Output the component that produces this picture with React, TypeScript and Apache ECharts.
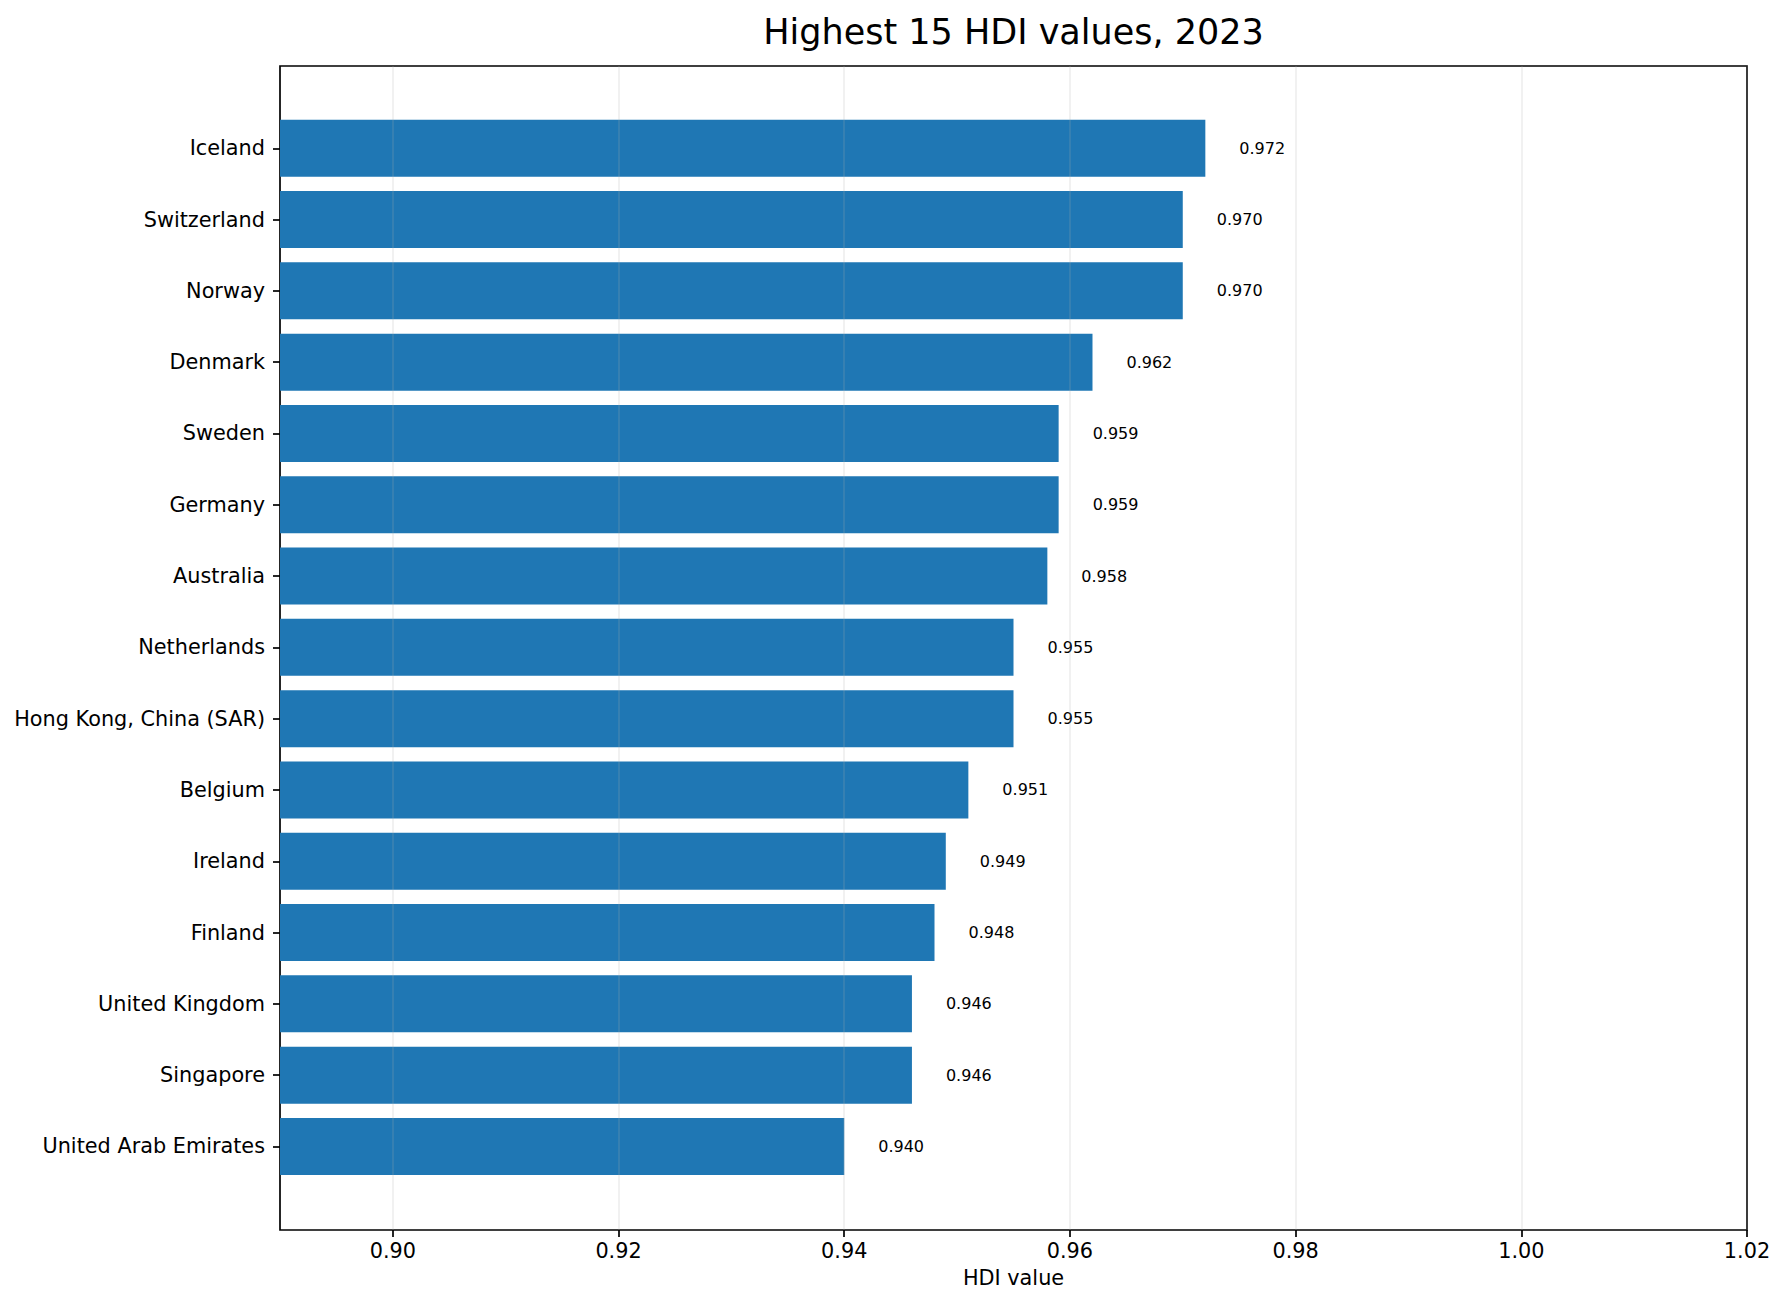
import { FC, useEffect, useRef } from 'react';
import * as echarts from 'echarts';

// data
const countries = [
  'Iceland',
  'Switzerland',
  'Norway',
  'Denmark',
  'Sweden',
  'Germany',
  'Australia',
  'Netherlands',
  'Hong Kong, China (SAR)',
  'Belgium',
  'Ireland',
  'Finland',
  'United Kingdom',
  'Singapore',
  'United Arab Emirates',
];
const hdiValues = [0.972, 0.97, 0.97, 0.962, 0.959, 0.959, 0.958, 0.955, 0.955, 0.951, 0.949, 0.948, 0.946, 0.946, 0.94];
const xTicks = [0.9, 0.92, 0.94, 0.96, 0.98, 1.0, 1.02];
const xMin = 0.89;
const xMax = 1.02;

const FONT = 'DejaVu Sans';

// layout (px)
const AX_LEFT = 280;
const AX_WIDTH = 1467;
const AX_TOP = 66;
const AX_HEIGHT = 1164;
const BAND = 71.3;
const BAND_TOP = 112.6;

const App: FC = () => {
  const chartDom = useRef<HTMLDivElement>(null);

  useEffect(() => {
    const chart = echarts.init(chartDom.current, null, { renderer: 'svg' });

    const option = {
      animation: false,
      backgroundColor: '#fff',
      textStyle: { fontFamily: FONT, color: '#000' },
      graphic: [
        {
          type: 'text',
          x: AX_LEFT + AX_WIDTH / 2,
          y: 32,
          style: {
            text: 'Highest 15 HDI values, 2023',
            align: 'center',
            verticalAlign: 'middle',
            fontFamily: FONT,
            fontSize: 35,
            fill: '#000',
          },
        },
      ],
      grid: [
        // bars
        { left: AX_LEFT, width: AX_WIDTH, top: BAND_TOP, height: BAND * countries.length },
        // frame + x axis
        {
          left: AX_LEFT,
          width: AX_WIDTH,
          top: AX_TOP,
          height: AX_HEIGHT,
          show: true,
          borderColor: '#000',
          borderWidth: 1.7,
          backgroundColor: 'transparent',
        },
      ],
      xAxis: [
        { gridIndex: 0, type: 'value', min: xMin, max: xMax, show: false },
        {
          gridIndex: 1,
          type: 'value',
          min: xMin,
          max: xMax,
          axisLine: { show: false },
          axisTick: {
            show: true,
            customValues: xTicks,
            length: 7,
            lineStyle: { color: '#000', width: 1.7 },
          },
          axisLabel: {
            customValues: xTicks,
            margin: 10,
            fontSize: 20.8,
            color: '#000',
            fontFamily: FONT,
            formatter: (v: number) => v.toFixed(2),
          },
          splitLine: { show: false },
          name: 'HDI value',
          nameLocation: 'middle',
          nameGap: 37,
          nameTextStyle: { fontSize: 20.8, color: '#000', fontFamily: FONT },
        },
      ],
      yAxis: [
        {
          gridIndex: 0,
          type: 'category',
          inverse: true,
          data: countries,
          axisLine: { show: false },
          axisTick: {
            show: true,
            alignWithLabel: true,
            length: 7,
            lineStyle: { color: '#000', width: 1.7 },
          },
          axisLabel: { margin: 15, fontSize: 20.8, color: '#000', fontFamily: FONT },
          splitLine: { show: false },
        },
        { gridIndex: 1, type: 'value', min: 0, max: 1, show: false },
      ],
      series: [
        {
          type: 'bar',
          xAxisIndex: 0,
          yAxisIndex: 0,
          data: hdiValues,
          barCategoryGap: '20%',
          itemStyle: { color: '#1f77b4' },
          label: {
            show: true,
            position: 'right',
            distance: 34,
            fontSize: 16,
            color: '#000',
            fontFamily: FONT,
            formatter: (p: any) => Number(p.value).toFixed(3),
          },
        },
        {
          // light vertical grid lines drawn over the bars
          type: 'line',
          xAxisIndex: 1,
          yAxisIndex: 1,
          data: [],
          z: 5,
          markLine: {
            silent: true,
            symbol: ['none', 'none'],
            label: { show: false },
            lineStyle: { color: 'rgba(176,176,176,0.2)', width: 1.7, type: 'solid' },
            data: xTicks.map((v) => ({ xAxis: v })),
          },
        },
      ],
    };

    chart.setOption(option as any);

    return () => {
      chart.dispose();
    };
  }, []);

  return (
    <div
      ref={chartDom}
      style={{ position: 'absolute', left: 0, top: 0, width: 1785, height: 1305, background: '#fff' }}
    />
  );
};

export default App;
